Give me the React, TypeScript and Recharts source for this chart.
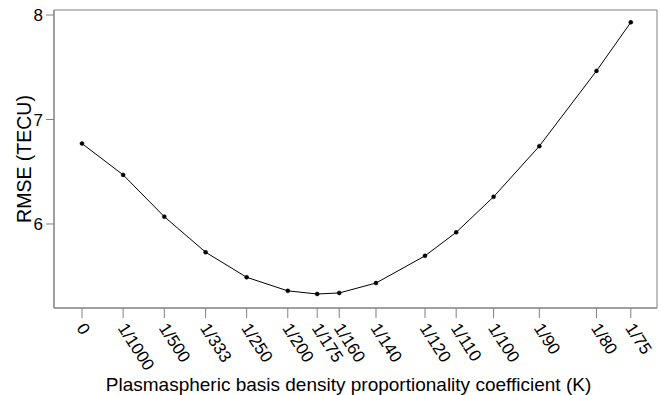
import { LineChart, Line, XAxis, YAxis, ReferenceArea } from 'recharts';

// K values (x positions) and their tick labels
const kValues = [0, 1 / 1000, 1 / 500, 1 / 333, 1 / 250, 1 / 200, 1 / 175, 1 / 160, 1 / 140, 1 / 120, 1 / 110, 1 / 100, 1 / 90, 1 / 80, 1 / 75];
const kLabels = ['0', '1/1000', '1/500', '1/333', '1/250', '1/200', '1/175', '1/160', '1/140', '1/120', '1/110', '1/100', '1/90', '1/80', '1/75'];
const rmse = [6.77, 6.47, 6.07, 5.73, 5.49, 5.36, 5.33, 5.34, 5.435, 5.695, 5.92, 6.26, 6.745, 7.465, 7.93];
const yTicks = [6, 7, 8];

const data = kValues.map((k, i) => ({ k, rmse: rmse[i] }));

const X_DOMAIN: [number, number] = [-0.00068, 0.01397];
const Y_DOMAIN: [number, number] = [5.196, 8.048];

const FONT = '"Liberation Sans", Arial, Helvetica, sans-serif';
const GRAY = '#808080';

function XTick(props: any) {
  const { x, y, payload } = props;
  const idx = kValues.indexOf(payload.value);
  const label = idx >= 0 ? kLabels[idx] : '';
  return (
    <g transform={`translate(${x - 6},${y + 8})`}>
      <text transform="rotate(57)" textAnchor="start" fontSize={17} fontFamily={FONT} fill="#000">
        {label}
      </text>
    </g>
  );
}

export default function App() {
  return (
    <div style={{ position: 'absolute', left: 0, top: 0, background: '#fff' }}>
      <LineChart width={661} height={395} data={data} margin={{ top: 10, right: 4, bottom: 0, left: 0 }}>
        <XAxis
          dataKey="k"
          type="number"
          domain={X_DOMAIN}
          ticks={kValues}
          interval={0}
          allowDataOverflow
          height={87}
          stroke={GRAY}
          tickSize={10}
          tick={<XTick />}
          label={{
            value: 'Plasmaspheric basis density proportionality coefficient (K)',
            position: 'insideBottom',
            offset: 4,
            dx: -7,
            style: { fontSize: 19, fontFamily: FONT, fill: '#000' },
          }}
        />
        <YAxis
          domain={Y_DOMAIN}
          ticks={yTicks}
          allowDataOverflow
          width={54}
          stroke={GRAY}
          tickSize={8}
          tickMargin={3}
          tick={{ fontSize: 17, fontFamily: FONT, fill: '#000' }}
          label={{
            value: 'RMSE (TECU)',
            angle: -90,
            position: 'center',
            dx: -3,
            style: { fontSize: 19.5, fontFamily: FONT, fill: '#000', textAnchor: 'middle' },
          }}
        />
        <ReferenceArea
          x1={X_DOMAIN[0]}
          x2={X_DOMAIN[1]}
          y1={Y_DOMAIN[0]}
          y2={Y_DOMAIN[1]}
          fill="none"
          fillOpacity={0}
          stroke={GRAY}
          strokeWidth={1}
          ifOverflow="visible"
        />
        <Line
          dataKey="rmse"
          type="linear"
          stroke="#000"
          strokeWidth={1}
          dot={{ r: 2, fill: '#000', stroke: '#000', strokeWidth: 0.5 }}
          isAnimationActive={false}
        />
      </LineChart>
    </div>
  );
}
